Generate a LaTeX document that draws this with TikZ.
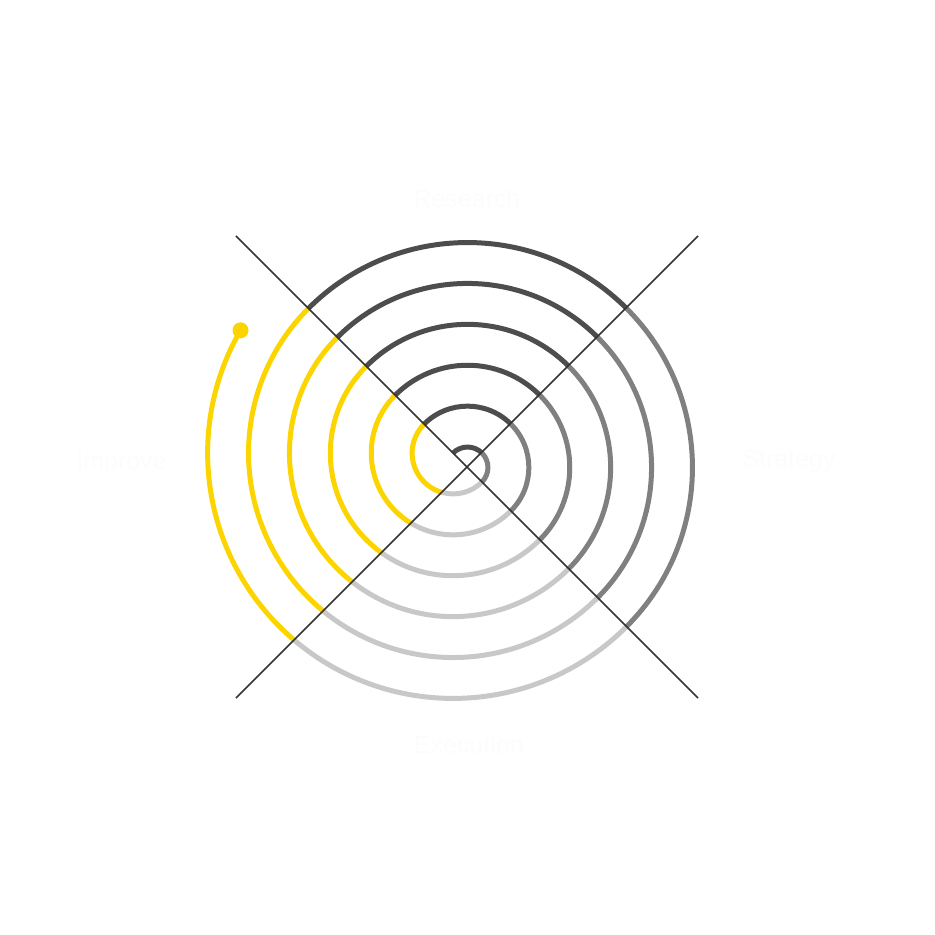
\documentclass[tikz,border=0pt]{standalone}
\usepackage{fontspec}
\setmainfont{Liberation Sans}
\usepackage{tikz}
\usetikzlibrary{calc}

\definecolor{topgray}{HTML}{4D4D4D}
\definecolor{sidegray}{HTML}{808080}
\definecolor{lowgray}{HTML}{C8C8C8}
\definecolor{spiralyellow}{RGB}{252,212,0}
\definecolor{axisgray}{HTML}{333333}
\definecolor{labelwhite}{HTML}{FCFCFC}

\begin{document}
\begin{tikzpicture}[x=0.02cm, y=0.02cm]
    \tikzstyle{ring} = [line width=0.1cm]
    \tikzstyle{axis} = [line width=0.035cm, draw=axisgray]
    \tikzstyle{label} = [font=\fontsize{14.2}{17}\selectfont, text=labelwhite, anchor=base]
    \def\gap{20.45}
    \useasboundingbox (-467.5,-467.5) rectangle (467.5,467.5);
    \coordinate (P) at (0,0);
    \coordinate (Q) at (-14.46,14.46);
    % half turns round P: top and right
    \foreach \k in {1,...,6}{
        \pgfmathsetmacro\rP{(2*\k-1)*\gap}
        \draw[ring, topgray] ($(P)+(135:\rP)$) arc[start angle=135, end angle=45, radius=\rP];
        \draw[ring, sidegray] ($(P)+(45:\rP)$) arc[start angle=45, end angle=-45, radius=\rP];
    }
    % half turns round Q: bottom and left
    \foreach \k in {1,...,6}{
        \pgfmathsetmacro\rQ{2*\k*\gap}
        \pgfmathsetmacro\cut{-45-acos(1/(2*\k))}
        \pgfmathsetmacro\qend{ifthenelse(\k==6,-210,-225)}
        \draw[ring, lowgray] ($(Q)+(-45:\rQ)$) arc[start angle=-45, end angle=\cut, radius=\rQ];
        \draw[ring, spiralyellow] ($(Q)+(\cut:\rQ)$) arc[start angle=\cut, end angle=\qend, radius=\rQ];
    }
    \coordinate (tail) at ($(Q)+(-210:12*\gap)$);
    \fill[spiralyellow] (tail) circle[radius=8];
    % diagonals
    \coordinate (nw) at (-231.5,231.5);
    \coordinate (se) at (230.5,-230.5);
    \coordinate (sw) at (-231.5,-230.5);
    \coordinate (ne) at (230.5,231.5);
    \draw[axis] (nw) -- (se);
    \draw[axis] (sw) -- (ne);
    \node[label] (research) at (-0.5,259.5) {Research};
    \node[label] (improve) at (-346,-2.5) {Improve};
    \node[label] (strategy) at (321.5,-0.5) {Strategy};
    \node[label] (execution) at (1.5,-285.5) {Execution};
\end{tikzpicture}
\end{document}
